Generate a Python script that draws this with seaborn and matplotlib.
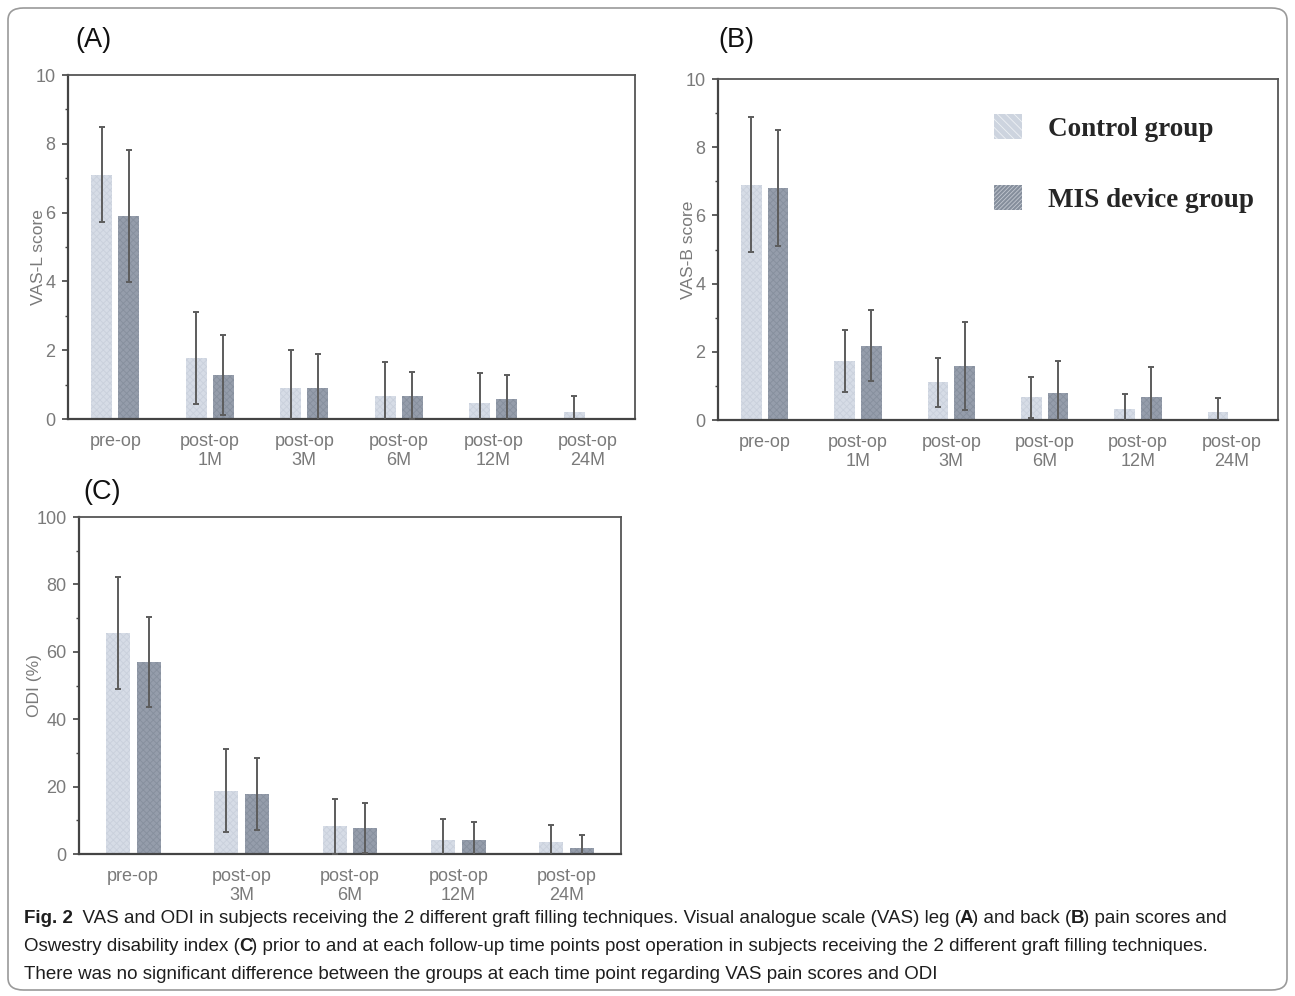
import numpy as np
import pandas as pd
import seaborn as sns
import matplotlib.pyplot as plt
from matplotlib.patches import FancyBboxPatch, Patch
from matplotlib.ticker import MultipleLocator

# time points and groups
vas_times = ['pre-op', 'post-op\n1M', 'post-op\n3M', 'post-op\n6M', 'post-op\n12M', 'post-op\n24M']
odi_times = ['pre-op', 'post-op\n3M', 'post-op\n6M', 'post-op\n12M', 'post-op\n24M']
groups = ['Control group', 'MIS device group']

# (A) VAS leg, mean and sd
vasl_ctrl = [7.1, 1.77, 0.9, 0.68, 0.46, 0.2]
vasl_ctrl_sd = [1.38, 1.34, 1.11, 0.97, 0.89, 0.46]
vasl_mis = [5.9, 1.27, 0.9, 0.68, 0.58, 0.0]
vasl_mis_sd = [1.92, 1.16, 0.99, 0.68, 0.71, 0.0]

# (B) VAS back
vasb_ctrl = [6.9, 1.74, 1.1, 0.66, 0.31, 0.24]
vasb_ctrl_sd = [1.98, 0.91, 0.71, 0.61, 0.45, 0.4]
vasb_mis = [6.8, 2.18, 1.59, 0.78, 0.68, 0.0]
vasb_mis_sd = [1.7, 1.05, 1.29, 0.95, 0.86, 0.0]

# (C) ODI (%)
odi_ctrl = [65.6, 18.8, 8.2, 4.25, 3.6]
odi_ctrl_sd = [16.7, 12.3, 8.1, 6.1, 4.9]
odi_mis = [56.9, 17.9, 7.7, 4.25, 1.8]
odi_mis_sd = [13.4, 10.7, 7.4, 5.2, 3.9]

c_ctrl, c_mis = '#d6dce6', '#959dab'
h_ctrl, h_mis = '#c9d0dc', '#868f9d'

sns.set_theme(style='white')
plt.rcParams['font.family'] = ['Liberation Sans', 'DejaVu Sans']
plt.rcParams['hatch.linewidth'] = 0.6

fig = plt.figure(figsize=(12.95, 9.96), dpi=100)
W, H = 1295.0, 996.0


def px_axes(l, t, r, b):
    return fig.add_axes([l / W, 1 - b / H, (r - l) / W, (b - t) / H])


def panel(ax, times, ctrl, ctrl_sd, mis, mis_sd, ylabel, ymax, major, minor, ylab_xy):
    n = len(times)
    df = pd.DataFrame({
        'time': times * 2,
        'group': [groups[0]] * n + [groups[1]] * n,
        'value': ctrl + mis,
    })
    sns.barplot(data=df, x='time', y='value', hue='group', order=times, hue_order=groups,
                palette=[c_ctrl, c_mis], saturation=1, width=0.57, gap=0.22,
                errorbar=None, legend=False, ax=ax)
    for cont, means, sds, hc in zip(ax.containers, [ctrl, mis], [ctrl_sd, mis_sd], [h_ctrl, h_mis]):
        for bar, m, s in zip(cont, means, sds):
            bar.set_hatch('xxxxx')
            bar.set_edgecolor(hc)
            bar.set_linewidth(0)
            if s > 0:
                ax.errorbar(bar.get_x() + bar.get_width() / 2, m, yerr=s, fmt='none',
                            ecolor='#5c5c5c', elinewidth=1.4, capsize=2.5, capthick=1.4, zorder=4)
    ax.set_xlim(-0.5, n - 0.5)
    ax.set_ylim(0, ymax)
    ax.yaxis.set_major_locator(MultipleLocator(major))
    ax.yaxis.set_minor_locator(MultipleLocator(minor))
    ax.set_xticks(range(n))
    ax.set_xticklabels(times)
    ax.set_xticks(np.arange(-0.5, n), minor=True)
    ax.tick_params(axis='x', which='major', length=0, pad=10, labelsize=13, labelcolor='#7a7a7a')
    ax.tick_params(axis='x', which='minor', length=5, width=1.3, direction='out', color='#444444')
    ax.tick_params(axis='y', which='major', length=4, width=1.2, direction='out', pad=5,
                   labelsize=13, labelcolor='#7a7a7a', color='#444444', left=True)
    ax.tick_params(axis='y', which='minor', length=2, width=1.0, direction='out',
                   color='#444444', left=True)
    for lbl in ax.get_xticklabels():
        lbl.set_linespacing(1.15)
    ax.set_xlabel('')
    ax.set_ylabel(ylabel, fontsize=12.5, color='#7a7a7a')
    ax.yaxis.set_label_coords(*ylab_xy)
    for side in ['left', 'bottom']:
        ax.spines[side].set_color('#444444')
        ax.spines[side].set_linewidth(1.6)
    for side in ['top', 'right']:
        ax.spines[side].set_color('#555555')
        ax.spines[side].set_linewidth(1.3)
    ax.set_facecolor('white')


axA = px_axes(68, 75, 635, 419)
panel(axA, vas_times, vasl_ctrl, vasl_ctrl_sd, vasl_mis, vasl_mis_sd, 'VAS-L score', 10, 2, 1,
      (-0.039, 0.47))

axB = px_axes(718, 79, 1278, 420)
panel(axB, vas_times, vasb_ctrl, vasb_ctrl_sd, vasb_mis, vasb_mis_sd, 'VAS-B score', 10, 2, 1,
      (-0.039, 0.5))

axC = px_axes(79, 517, 621, 854)
panel(axC, odi_times, odi_ctrl, odi_ctrl_sd, odi_mis, odi_mis_sd, 'ODI (%)', 100, 20, 10,
      (-0.068, 0.5))

handles = [Patch(facecolor='#cdd4df', edgecolor='#eef1f5', hatch='\\\\\\\\', linewidth=0),
           Patch(facecolor='#858e9c', edgecolor='#c3c8d0', hatch='////////', linewidth=0)]
axB.legend(handles, groups, loc='upper left', bbox_to_anchor=((994 - 718) / 560.0, (420 - 114) / 341.0),
           frameon=False, borderpad=0, borderaxespad=0, handlelength=1.05, handleheight=1.05,
           handletextpad=0.95, labelspacing=1.6,
           prop={'family': 'Liberation Serif', 'weight': 'bold', 'size': 19.5})

# panel letters
for lx, ly, s in [(75, 40, '(A)'), (718, 40, '(B)'), (83, 492, '(C)')]:
    fig.text(lx / W, 1 - ly / H, s, fontsize=19.5, color='#111111', va='center', ha='left')

# rounded frame round the figure
frame = FancyBboxPatch((8 / W, 6 / H), (1287 - 8) / W, (990 - 8) / H,
                       boxstyle='round,pad=0,rounding_size=0.012', transform=fig.transFigure,
                       facecolor='none', edgecolor='#9a9a9a', linewidth=1.2)
fig.patches.append(frame)

# caption with bold runs
cap_lines = [
    [('Fig. 2', True), ('  VAS and ODI in subjects receiving the 2 different graft filling techniques. '
                        'Visual analogue scale (VAS) leg (', False), ('A', True),
     (') and back (', False), ('B', True), (') pain scores and', False)],
    [('Oswestry disability index (', False), ('C', True),
     (') prior to and at each follow-up time points post operation in subjects receiving the 2 different '
      'graft filling techniques.', False)],
    [('There was no significant difference between the groups at each time point regarding '
      'VAS pain scores and ODI', False)],
]
cap_y = [918, 946, 974]
renderer = fig.canvas.get_renderer()
for runs, yy in zip(cap_lines, cap_y):
    x = 24 / W
    for s, bold in runs:
        t = fig.text(x, 1 - yy / H, s, fontsize=13.5, color='#1e1e1e', va='center', ha='left',
                     fontweight='bold' if bold else 'normal')
        x += (t.get_window_extent(renderer).width - 1.0) / W

fig.savefig('out.png', dpi=100, facecolor='white')
